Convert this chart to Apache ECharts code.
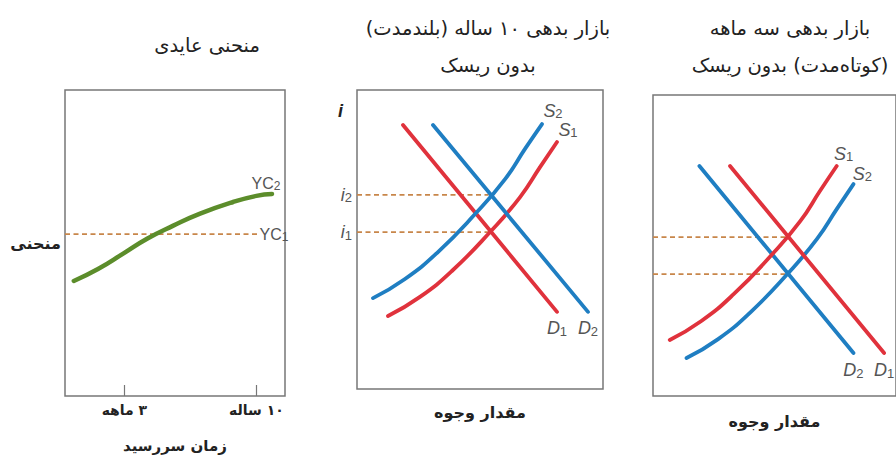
<!DOCTYPE html>
<html>
<head>
<meta charset="utf-8">
<script src="https://cdn.jsdelivr.net/npm/echarts@6/dist/echarts.min.js"></script>
<style>
  html, body { margin: 0; padding: 0; background: #fff; }
  #chart { width: 896px; height: 461px; }
</style>
</head>
<body>
<div id="chart"></div>
<script>
// panel 1: yield curve (x = maturity, y = yield, both 0..100)
var yieldCurve2 = [[4, 37.6], [15, 41.5], [26.8, 46.7], [37.3, 51.4], [49, 55.6], [61.4, 59.6], [76.4, 63.4], [87, 65.4], [94.1, 66.0]];
var yieldCurve1Level = 52.9;
var yieldCurve1End = 88;
var maturityTicks = [27, 87];
var maturityLabels = ['۳ ماهه', '۱۰ ساله'];

// panel 2: 10-year bond market
var longS1 = [[12.6, 24.4], [25.6, 30.8], [39.0, 39.8], [54.1, 52.5], [66.3, 64.2], [74.4, 74.2], [81.3, 82.6]];
var longS2 = [[6.5, 30.4], [19.5, 36.8], [32.9, 45.8], [48.0, 58.5], [60.2, 70.2], [68.3, 80.3], [75.2, 88.6]];
var longD1 = [[18.7, 88.3], [81.3, 25.8]];
var longD2 = [[30.9, 88.3], [93.9, 25.8]];
var longRates = [52.5, 64.9];      // i1, i2
var longEqX = [53.5, 53.5];

// panel 3: 3-month bond market
var shortS1 = [[6.9, 18.6], [19.9, 24.9], [33.3, 33.9], [48.4, 46.5], [60.6, 58.1], [68.7, 68.1], [75.6, 76.4]];
var shortS2 = [[13.8, 12.6], [26.8, 18.9], [40.2, 27.9], [55.3, 40.5], [67.5, 52.2], [75.6, 62.1], [82.5, 70.4]];
var shortD1 = [[31.7, 76.4], [95.1, 14.3]];
var shortD2 = [[19.1, 76.4], [82.5, 14.3]];
var shortRates = [52.8, 40.5];
var shortEqX = [54.5, 54.5];

var titles = [
  'منحنی عایدی',
  'بازار بدهی ۱۰ ساله (بلندمدت)\nبدون ریسک',
  'بازار بدهی سه ماهه\n(کوتاه‌مدت) بدون ریسک'
];

(function() {
  var RLM = '\u200F';
  var red = '#e0323c';
  var blue = '#1f7ec2';
  var green = '#5c8d2b';
  var dot = '#c8864a';
  var border = '#777';
  var fa = '"DejaVu Sans", sans-serif';
  var narrow = '"Liberation Sans Narrow", "Liberation Sans", sans-serif';

  function rtl(s) {
    return s.split('\n').map(function(l) { return RLM + l + RLM; }).join('\n');
  }

  var chart = echarts.init(document.getElementById('chart'), null, { renderer: 'svg' });

  var subRich = {
    m: { fontSize: 16, lineHeight: 17, color: '#555', fontFamily: narrow },
    mi: { fontSize: 18, lineHeight: 19, color: '#555', fontFamily: narrow, fontStyle: 'italic' },
    s: { fontSize: 12, lineHeight: 9, color: '#555', fontFamily: narrow, verticalAlign: 'bottom' },
    si: { fontSize: 13, lineHeight: 10, color: '#555', fontFamily: narrow, verticalAlign: 'bottom' }
  };

  function lbl(main, idx, italic, position, extra) {
    var o = {
      show: true,
      position: position,
      formatter: italic ? '{mi|' + main + '}{si|' + idx + '}' : '{m|' + main + '}{s|' + idx + '}',
      rich: subRich
    };
    for (var k in extra) o[k] = extra[k];
    return o;
  }

  function tagPoint(points, idx, label) {
    return points.map(function(p, i) {
      return i === idx ? { value: p, label: label } : p;
    });
  }

  function line(data, color, width, g, smooth) {
    return {
      type: 'line',
      xAxisIndex: g,
      yAxisIndex: g,
      data: data,
      smooth: smooth ? 0.5 : false,
      symbol: 'circle',
      symbolSize: 0,
      silent: true,
      z: 3,
      lineStyle: { color: color, width: width, cap: 'round' },
      itemStyle: { color: color }
    };
  }

  function dotted(data, g) {
    var s = line(data, dot, 1.8, g, false);
    s.lineStyle.type = [5, 3.5];
    s.lineStyle.cap = 'butt';
    s.z = 2;
    return s;
  }

  function level(x0, x1, y) { return [[x0, y], [x1, y]]; }

  function hiddenAxis(g) {
    return {
      type: 'value', gridIndex: g, min: 0, max: 100,
      axisLine: { show: false }, axisTick: { show: false },
      axisLabel: { show: false }, splitLine: { show: false }
    };
  }

  var nameStyle = { fontFamily: fa, fontWeight: 'bold', fontSize: 16, color: '#222' };

  var x0 = hiddenAxis(0);
  x0.axisTick = { show: true, inside: true, length: 11, customValues: maturityTicks, lineStyle: { color: border, width: 1.2 } };
  x0.axisLabel = {
    show: true, customValues: maturityTicks, margin: 7,
    fontFamily: fa, fontWeight: 'bold', fontSize: 14, color: '#222',
    formatter: function(v) { return rtl(maturityLabels[maturityTicks.indexOf(v)]); }
  };
  x0.name = rtl('زمان سررسید');
  x0.nameLocation = 'middle';
  x0.nameGap = 42;
  x0.nameTextStyle = { fontFamily: fa, fontWeight: 'bold', fontSize: 15, color: '#222' };

  var y0 = hiddenAxis(0);
  y0.name = rtl('منحنی');
  y0.nameLocation = 'middle';
  y0.nameRotate = 0;
  y0.nameGap = 4;
  y0.nameTextStyle = nameStyle;

  var x1 = hiddenAxis(1);
  x1.name = rtl('مقدار وجوه');
  x1.nameLocation = 'middle';
  x1.nameGap = 15;
  x1.nameTextStyle = nameStyle;

  var y1 = hiddenAxis(1);
  y1.name = 'i';
  y1.nameLocation = 'end';
  y1.nameGap = -30;
  y1.nameTextStyle = { fontFamily: narrow, fontWeight: 'bold', fontStyle: 'italic', fontSize: 18, color: '#222', align: 'right', padding: [0, 14, 0, 0] };

  var x2 = hiddenAxis(2);
  x2.name = rtl('مقدار وجوه');
  x2.nameLocation = 'middle';
  x2.nameGap = 17;
  x2.nameTextStyle = nameStyle;

  var y2 = hiddenAxis(2);

  var gridBox = { show: true, borderColor: border, borderWidth: 1.5, backgroundColor: 'transparent' };
  function grid(left, top, width, height) {
    var g = { left: left, top: top, width: width, height: height };
    for (var k in gridBox) g[k] = gridBox[k];
    return g;
  }

  var titleStyle = { fontFamily: fa, fontWeight: 'normal', fontSize: 19.5, color: '#222', lineHeight: 37 };

  var series = [
    // panel 1
    line(tagPoint(yieldCurve2, yieldCurve2.length - 1, lbl('YC', '2', false, 'top', { distance: 2, offset: [-6, 0] })), green, 4.5, 0, true),
    dotted(tagPoint(level(0, yieldCurve1End, yieldCurve1Level), 1, lbl('YC', '1', false, 'right', { distance: 1 })), 0),
    // panel 2
    dotted(tagPoint(level(0, longEqX[0], longRates[0]), 0, lbl('i', '1', true, 'left', { distance: 5 })), 1),
    dotted(tagPoint(level(0, longEqX[1], longRates[1]), 0, lbl('i', '2', true, 'left', { distance: 5 })), 1),
    line(tagPoint(longD1, longD1.length - 1, lbl('D', '1', true, 'bottom', { distance: 7 })), red, 3.8, 1, false),
    line(tagPoint(longS1, longS1.length - 1, lbl('S', '1', true, 'top', { distance: 2, offset: [11, -1] })), red, 3.8, 1, true),
    line(tagPoint(longD2, longD2.length - 1, lbl('D', '2', true, 'bottom', { distance: 7 })), blue, 3.8, 1, false),
    line(tagPoint(longS2, longS2.length - 1, lbl('S', '2', true, 'top', { distance: 2, offset: [11, -2] })), blue, 3.8, 1, true),
    // panel 3
    dotted(level(0, shortEqX[0], shortRates[0]), 2),
    dotted(level(0, shortEqX[1], shortRates[1]), 2),
    line(tagPoint(shortD2, shortD2.length - 1, lbl('D', '2', true, 'bottom', { distance: 8 })), blue, 3.8, 2, false),
    line(tagPoint(shortS2, shortS2.length - 1, lbl('S', '2', true, 'top', { distance: 2, offset: [9, 1] })), blue, 3.8, 2, true),
    line(tagPoint(shortD1, shortD1.length - 1, lbl('D', '1', true, 'bottom', { distance: 8 })), red, 3.8, 2, false),
    line(tagPoint(shortS1, shortS1.length - 1, lbl('S', '1', true, 'top', { distance: 2, offset: [7, -1] })), red, 3.8, 2, true)
  ];

  chart.setOption({
    animation: false,
    title: [
      { text: rtl(titles[0]), left: 202, top: 22, textAlign: 'center', textStyle: titleStyle },
      { text: rtl(titles[1]), left: 483, top: 5, textAlign: 'center', textStyle: titleStyle },
      { text: rtl(titles[2]), left: 785, top: 5, textAlign: 'center', textStyle: titleStyle }
    ],
    grid: [
      grid(65, 90, 220, 306),
      grid(357, 90, 246, 299),
      grid(653, 95, 246, 301)
    ],
    xAxis: [x0, x1, x2],
    yAxis: [y0, y1, y2],
    series: series
  });

  window.addEventListener('resize', function() { chart.resize(); });
})();
</script>
</body>
</html>
